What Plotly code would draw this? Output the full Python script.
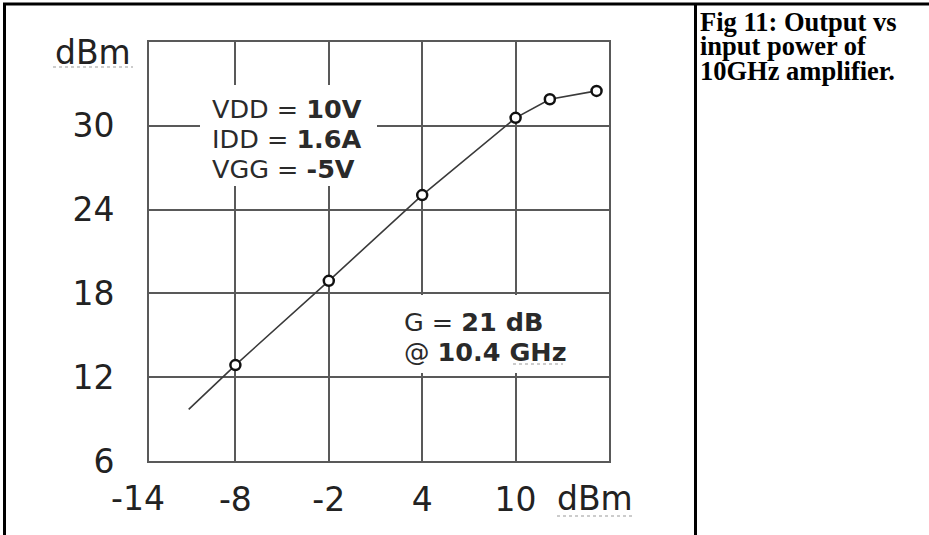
import plotly.graph_objects as go

# ---- data ----
line_x = [-11, -8, -2, 4, 10, 12.2, 15.2]
line_y = [9.7, 12.87, 18.9, 25.04, 30.57, 31.9, 32.5]
meas_x = [-8, -2, 4, 10, 12.2, 15.2]
meas_y = [12.87, 18.9, 25.04, 30.57, 31.9, 32.5]
x_ticks = [-8, -2, 4, 10]
x_tick_text = ["-8", "-2", "4", "10"]
y_ticks = [6, 12, 18, 24, 30]
x_extra_labels = ["-14", "dBm"]
y_unit = "dBm"
bias_lines = ["VDD = <b>10V</b>", "IDD = <b>1.6A</b>", "VGG = <b>-5V</b>"]
gain_lines = ["G = <b>21 dB</b>", "@ <b>10.4 GHz</b>"]
caption_lines = ["Fig 11: Output vs", "input power of", "10GHz amplifier."]

W, H = 929, 535
L, R, T, B = 149, 609, 42, 461  # plot-area pixel box


def px(x):
    return (x - L) / (R - L)


def py(y):
    return (B - y) / (B - T)


GRID = "#595959"
FONT = "DejaVu Sans"
TICKFONT = dict(size=33, family=FONT, color="#222222")

fig = go.Figure()
fig.add_trace(go.Scatter(x=line_x, y=line_y, mode="lines",
                         line=dict(color="#3a3a3a", width=1.6),
                         hoverinfo="skip", showlegend=False))
fig.add_trace(go.Scatter(x=meas_x, y=meas_y, mode="markers",
                         marker=dict(symbol="circle", size=10, color="white",
                                     line=dict(color="#111111", width=2.5)),
                         showlegend=False))

fig.update_layout(
    width=W, height=H,
    margin=dict(l=L, r=W - R, t=T, b=H - B, pad=0),
    paper_bgcolor="white", plot_bgcolor="white",
    font=dict(family=FONT, color="#222222"),
)
fig.update_xaxes(range=[-13.55, 16], tickmode="array", tickvals=x_ticks, ticktext=x_tick_text,
                 showgrid=True, gridcolor=GRID, gridwidth=1.8,
                 showline=True, mirror=True, linecolor=GRID, linewidth=1.8,
                 zeroline=False, ticks="", tickfont=TICKFONT,
                 ticklabelstandoff=8)
fig.update_yaxes(range=[6, 36], tickmode="array", tickvals=y_ticks,
                 showgrid=True, gridcolor=GRID, gridwidth=1.8,
                 showline=True, mirror=True, linecolor=GRID, linewidth=1.8,
                 zeroline=False, ticks="", tickfont=TICKFONT,
                 ticklabelstandoff=26)

# extra x labels (-14 at left, unit at right)
fig.add_annotation(x=px(138), y=0, xref="paper", yref="paper", yshift=-37, text=x_extra_labels[0],
                   showarrow=False, xanchor="center", yanchor="middle", font=TICKFONT)
fig.add_annotation(x=px(595), y=0, xref="paper", yref="paper", yshift=-37, text=x_extra_labels[1],
                   showarrow=False, xanchor="center", yanchor="middle", font=TICKFONT)
# y unit label
fig.add_annotation(x=px(93), y=py(52), xref="paper", yref="paper", text=y_unit,
                   showarrow=False, xanchor="center", yanchor="middle", font=TICKFONT)

# white boxes behind the text blocks
fig.add_shape(type="rect", xref="paper", yref="paper", layer="above",
              x0=px(200), x1=px(377), y0=py(186), y1=py(85),
              fillcolor="white", line=dict(width=0))
fig.add_shape(type="rect", xref="paper", yref="paper", layer="above",
              x0=px(393), x1=px(582), y0=py(373), y1=py(295),
              fillcolor="white", line=dict(width=0))

for i, t in enumerate(bias_lines):
    fig.add_annotation(x=px(210), y=py(108.5 + 30 * i), xref="paper", yref="paper",
                       text=t, showarrow=False, xanchor="left", yanchor="middle",
                       font=dict(size=25.5, family=FONT, color="#2a2a2a"))
for i, t in enumerate(gain_lines):
    fig.add_annotation(x=px(402), y=py(322 + 29.5 * i), xref="paper", yref="paper",
                       text=t, showarrow=False, xanchor="left", yanchor="middle",
                       font=dict(size=25.5, family=FONT, color="#2a2a2a"))

# caption
for i, t in enumerate(caption_lines):
    fig.add_annotation(x=px(698), y=py(22 + 24.5 * i), xref="paper", yref="paper",
                       text="<b>" + t + "</b>", showarrow=False, xanchor="left", yanchor="middle",
                       font=dict(size=26.5, family="Liberation Serif", color="black"))

# spell-check squiggles
for (a, b, yy) in [(53, 133, 67), (557, 633, 516), (513, 563, 364)]:
    fig.add_shape(type="line", xref="paper", yref="paper", layer="above",
                  x0=px(a), x1=px(b), y0=py(yy), y1=py(yy),
                  line=dict(color="#9a9a9a", width=1.2, dash="dot"))

# table borders
BL = dict(color="black", width=3)
fig.add_shape(type="line", xref="paper", yref="paper", x0=px(3), x1=px(929), y0=py(4), y1=py(4), line=BL)
fig.add_shape(type="line", xref="paper", yref="paper", x0=px(4.5), x1=px(4.5), y0=py(3), y1=py(535), line=BL)
fig.add_shape(type="line", xref="paper", yref="paper", x0=px(695.5), x1=px(695.5), y0=py(3), y1=py(535), line=BL)

fig.write_html("out.html", config={"displayModeBar": False},
               post_script="document.body.style.margin='0';")
